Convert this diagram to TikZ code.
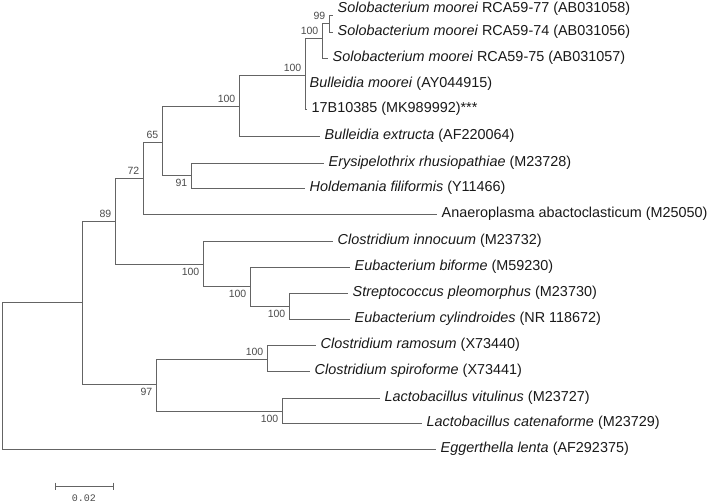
\documentclass[tikz,border=0pt]{standalone}
\usepackage{fontspec}
\setmainfont{Liberation Sans}
\newfontfamily\scalefont{Liberation Mono}
\definecolor{branchgray}{RGB}{100,100,100}
\definecolor{bootgray}{RGB}{75,75,75}
\tikzset{
  leaf/.style={anchor=west, inner xsep=4.5pt, inner ysep=0pt, text=black!90,
    font=\fontsize{14.4}{16}\selectfont},
  boot/.style={inner sep=3.5pt, text=bootgray, font=\fontsize{10.5}{12}\selectfont},
  branch/.style={draw=branchgray, line width=0.9pt}
}
\begin{document}
\begin{tikzpicture}[x=1pt,y=-1pt]
      \useasboundingbox (0,0) rectangle (709,503);
      \path
        (2,375) coordinate (r)
        (82,302) coordinate (a)
        (115,221) coordinate (b)
        (143,178) coordinate (c)
        (162,142) coordinate (d)
        (239,106) coordinate (e)
        (305,75) coordinate (g)
        (322,38) coordinate (h)
        (329,23) coordinate (i)
        (191,175) coordinate (f)
        (203,264) coordinate (j)
        (250,286) coordinate (k)
        (289,306) coordinate (l)
        (156,384) coordinate (m)
        (267,359) coordinate (n)
        (282,411) coordinate (o)
        (333,15) coordinate (t1);
      \path
        (333,9) node[leaf] (1){\textit{Solobacterium moorei} RCA59-77 (AB031058)}
        (333,32) node[leaf] (2){\textit{Solobacterium moorei} RCA59-74 (AB031056)}
        (328,58) node[leaf] (3){\textit{Solobacterium moorei} RCA59-75 (AB031057)}
        (305,84) node[leaf] (4){\textit{Bulleidia moorei} (AY044915)}
        (307,109) node[leaf] (5){17B10385 (MK989992)***}
        (320,136) node[leaf] (6){\textit{Bulleidia extructa} (AF220064)}
        (324,163) node[leaf] (7){\textit{Erysipelothrix rhusiopathiae} (M23728)}
        (305,188) node[leaf] (8){\textit{Holdemania filiformis} (Y11466)}
        (437,214) node[leaf] (9){Anaeroplasma abactoclasticum (M25050)}
        (333,241) node[leaf] (10){\textit{Clostridium innocuum} (M23732)}
        (350,267) node[leaf] (11){\textit{Eubacterium biforme} (M59230)}
        (348,293) node[leaf] (12){\textit{Streptococcus pleomorphus} (M23730)}
        (350,319) node[leaf] (13){\textit{Eubacterium cylindroides} (NR 118672)}
        (316,345) node[leaf] (14){\textit{Clostridium ramosum} (X73440)}
        (310,371) node[leaf] (15){\textit{Clostridium spiroforme} (X73441)}
        (380,398) node[leaf] (16){\textit{Lactobacillus vitulinus} (M23727)}
        (422,423) node[leaf] (17){\textit{Lactobacillus catenaforme} (M23729)}
        (436,449) node[leaf] (18){\textit{Eggerthella lenta} (AF292375)};
      \begin{scope}[branch]
        \draw (r) |- (a);
        \draw (r) |- (18.west);
        \draw (a) |- (b);
        \draw (a) |- (m);
        \draw (b) |- (c);
        \draw (b) |- (j);
        \draw (c) |- (d);
        \draw (c) |- (9.west);
        \draw (d) |- (e);
        \draw (d) |- (f);
        \draw (e) |- (g);
        \draw (e) |- (6.west);
        \draw (g) |- (h);
        \draw (g) |- (4.west);
        \draw (g) |- (5.west);
        \draw (h) |- (i);
        \draw (h) |- (3.west);
        \draw (i) |- (t1);
        \draw (i) |- (2.west);
        \draw (f) |- (7.west);
        \draw (f) |- (8.west);
        \draw (j) |- (10.west);
        \draw (j) |- (k);
        \draw (k) |- (11.west);
        \draw (k) |- (l);
        \draw (l) |- (12.west);
        \draw (l) |- (13.west);
        \draw (m) |- (n);
        \draw (m) |- (o);
        \draw (n) |- (14.west);
        \draw (n) |- (15.west);
        \draw (o) |- (16.west);
        \draw (o) |- (17.west);
      \end{scope}
      \node[boot, above left] at (i) {99};
      \node[boot, above left] at (h) {100};
      \node[boot, above left] at (g) {100};
      \node[boot, above left] at (e) {100};
      \node[boot, above left] at (d) {65};
      \node[boot, above left] at (c) {72};
      \node[boot, above left] at (b) {89};
      \node[boot, below left] at (f) {91};
      \node[boot, below left] at (j) {100};
      \node[boot, below left] at (k) {100};
      \node[boot, below left] at (l) {100};
      \node[boot, below left] at (m) {97};
      \node[boot, above left] at (n) {100};
      \node[boot, below left] at (o) {100};
      \coordinate (s0) at (55,486);
      \coordinate (s1) at (113,486);
      \draw[branch] (s0) -- (s1);
      \draw[branch] ([yshift=3.5pt]s0) -- ([yshift=-3.5pt]s0);
      \draw[branch] ([yshift=3.5pt]s1) -- ([yshift=-3.5pt]s1);
      \node[boot, font=\scalefont\fontsize{10}{12}\selectfont] (scale) at (84,498) {0.02};
    \end{tikzpicture}
\end{document}
